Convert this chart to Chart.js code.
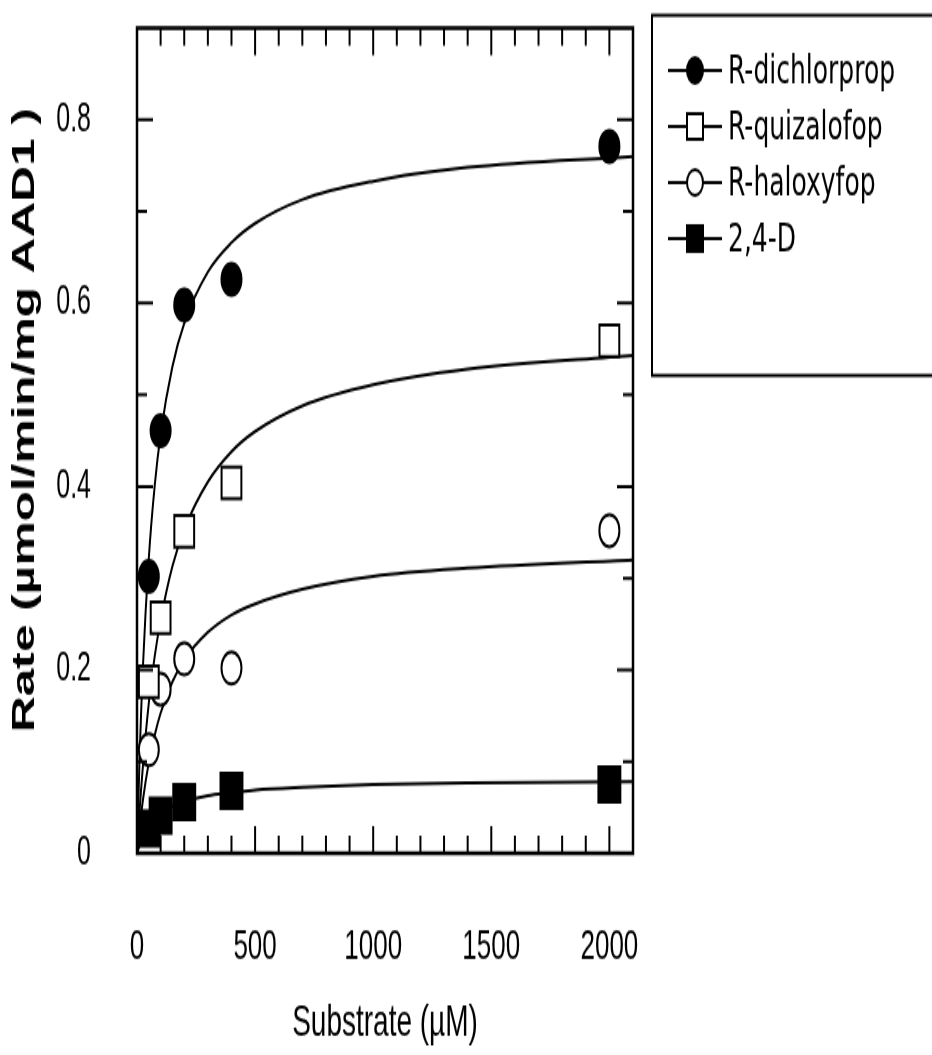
<!DOCTYPE html>
<html>
<head>
<meta charset="UTF-8">
<title>Rate vs substrate</title>
<script src="https://cdn.jsdelivr.net/npm/chart.js"></script>
<style>
  html, body { margin: 0; background: #fff; }
</style>
</head>
<body>
<!-- the reference is stretched tall, so the canvas is drawn short and scaled up -->
<canvas id="rate" width="932" height="659" style="width:932px;height:1055px;display:block"></canvas>
<script>
  const SUBSTRATE = [50, 100, 200, 400, 2000];
  const DICHLORPROP = [0.302, 0.461, 0.598, 0.626, 0.771];
  const QUIZALOFOP = [0.187, 0.257, 0.351, 0.404, 0.559];
  const HALOXYFOP = [0.113, 0.179, 0.212, 0.202, 0.352];
  const D24 = [0.027, 0.041, 0.056, 0.068, 0.075];

  // fitted curves
  const FIT_X = [0, 10, 25, 50, 75, 100, 150, 200, 300, 400, 500, 700, 1000, 1400, 2100];
  const DICHLORPROP_FIT = [0, 0.096, 0.203, 0.322, 0.401, 0.457, 0.531, 0.578, 0.634, 0.666, 0.687, 0.713, 0.733, 0.748, 0.760];
  const QUIZALOFOP_FIT = [0, 0.043, 0.095, 0.164, 0.215, 0.254, 0.313, 0.353, 0.405, 0.438, 0.460, 0.488, 0.511, 0.528, 0.543];
  const HALOXYFOP_FIT = [0, 0.026, 0.058, 0.099, 0.129, 0.153, 0.187, 0.211, 0.241, 0.260, 0.272, 0.288, 0.302, 0.311, 0.320];
  const D24_FIT = [0, 0.008, 0.018, 0.029, 0.037, 0.043, 0.051, 0.056, 0.063, 0.066, 0.069, 0.072, 0.075, 0.077, 0.078];

  const X_LABELS = [0, 500, 1000, 1500, 2000];
  const Y_LABELS = [0, 0.2, 0.4, 0.6, 0.8];

  const SANS = "'Liberation Sans', Arial, sans-serif";

  const pts = (xs, ys) => xs.map((x, i) => ({ x: x, y: ys[i] }));

  function markerSet(label, ys, style, filled, radius) {
    return {
      label: label,
      data: pts(SUBSTRATE, ys),
      showLine: false,
      pointStyle: style,
      pointRadius: radius,
      pointBorderWidth: 2,
      borderColor: '#000',
      backgroundColor: filled ? '#000' : '#fff',
      order: 0,
      clip: false
    };
  }

  function fitSet(ys) {
    return {
      data: pts(FIT_X, ys),
      showLine: true,
      pointRadius: 0,
      borderColor: '#000',
      borderWidth: 2,
      cubicInterpolationMode: 'monotone',
      order: 1
    };
  }

  // frame with inward ticks on all four sides
  const frame = {
    id: 'frame',
    afterDraw(chart) {
      const { ctx, chartArea: a, scales: { x, y } } = chart;
      ctx.save();
      ctx.strokeStyle = '#000';
      ctx.lineWidth = 2;
      for (let v = 100; v < 2100; v += 100) {
        const px = x.getPixelForValue(v);
        const len = v % 500 === 0 ? 17 : 11;
        ctx.beginPath();
        ctx.moveTo(px, a.bottom); ctx.lineTo(px, a.bottom - len);
        ctx.moveTo(px, a.top); ctx.lineTo(px, a.top + len);
        ctx.stroke();
      }
      for (let i = 1; i < 9; i++) {
        const py = y.getPixelForValue(i / 10);
        const len = i % 2 === 0 ? 16 : 10;
        ctx.beginPath();
        ctx.moveTo(a.left, py); ctx.lineTo(a.left + len, py);
        ctx.moveTo(a.right, py); ctx.lineTo(a.right - len, py);
        ctx.stroke();
      }
      ctx.lineWidth = 2.5;
      ctx.strokeRect(a.left, a.top, a.right - a.left, a.bottom - a.top);
      ctx.restore();
    }
  };

  // boxed legend with a line through each marker
  const keyBox = {
    id: 'keyBox',
    afterDraw(chart) {
      const ctx = chart.ctx;
      const rows = [44, 79, 114, 149];
      ctx.save();
      ctx.strokeStyle = '#000';
      ctx.lineWidth = 2;
      ctx.strokeRect(652, 9.5, 300, 225);
      ctx.font = "25px 'DejaVu Sans', sans-serif";
      ctx.textBaseline = 'middle';
      chart.data.datasets.filter(d => d.label).forEach((d, i) => {
        const yy = rows[i];
        ctx.beginPath();
        ctx.moveTo(668, yy); ctx.lineTo(722, yy);
        ctx.stroke();
        ctx.fillStyle = d.backgroundColor;
        ctx.beginPath();
        if (d.pointStyle === 'circle') ctx.arc(695, yy, 8, 0, Math.PI * 2);
        else ctx.rect(687, yy - 8, 16, 16);
        ctx.fill();
        ctx.stroke();
        ctx.fillStyle = '#000';
        ctx.fillText(d.label, 728, yy + 1);
      });
      ctx.restore();
    }
  };

  new Chart(document.getElementById('rate'), {
    type: 'scatter',
    data: {
      datasets: [
        markerSet('R-dichlorprop', DICHLORPROP, 'circle', true, 10),
        markerSet('R-quizalofop', QUIZALOFOP, 'rect', false, 14),
        markerSet('R-haloxyfop', HALOXYFOP, 'circle', false, 10),
        markerSet('2,4-D', D24, 'rect', true, 15.5),
        fitSet(DICHLORPROP_FIT),
        fitSet(QUIZALOFOP_FIT),
        fitSet(HALOXYFOP_FIT),
        fitSet(D24_FIT)
      ]
    },
    options: {
      responsive: false,
      devicePixelRatio: 1,
      animation: false,
      layout: { padding: { top: 9, right: 299, left: 0, bottom: 0 } },
      plugins: { legend: { display: false }, tooltip: { enabled: false } },
      scales: {
        x: {
          type: 'linear', min: 0, max: 2100,
          grid: { display: false }, border: { display: false },
          afterBuildTicks: s => { s.ticks = X_LABELS.map(v => ({ value: v })); },
          afterFit: s => { s.height = 126; s.paddingLeft = 0; s.paddingRight = 0; },
          ticks: {
            color: '#000', padding: 35, maxRotation: 0, font: { family: SANS, size: 26 },
            callback: v => String(v)
          },
          title: {
            display: true, text: 'Substrate (µM)', color: '#000',
            padding: { top: 0, bottom: 3 },
            font: { family: SANS, size: 28, lineHeight: 1.2 }
          }
        },
        y: {
          min: 0, max: 0.9,
          grid: { display: false }, border: { display: false },
          afterBuildTicks: s => { s.ticks = Y_LABELS.map(v => ({ value: v })); },
          afterFit: s => { s.width = 137; s.paddingTop = 0; s.paddingBottom = 0; },
          ticks: {
            color: '#000', padding: 38, font: { family: SANS, size: 25 },
            callback: v => v === 0 ? '0' : v.toFixed(1)
          },
          title: {
            display: true, text: '   Rate (µmol/min/mg AAD1 )', color: '#000',
            padding: { top: 7, bottom: 0 },
            font: { family: SANS, size: 31, weight: 'bold', lineHeight: 1.2 }
          }
        }
      }
    },
    plugins: [frame, keyBox]
  });
</script>
</body>
</html>
